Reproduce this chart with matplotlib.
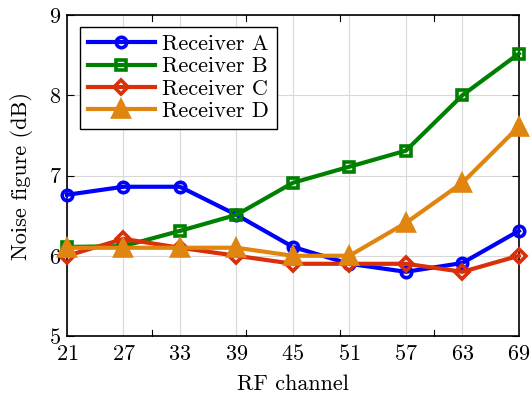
import numpy as np
import matplotlib.pyplot as plt

plt.rcParams['font.family'] = 'cmr10'
plt.rcParams['mathtext.fontset'] = 'cm'
plt.rcParams['axes.formatter.use_mathtext'] = True

channels = [21, 27, 33, 39, 45, 51, 57, 63, 69]
nf_a = [6.76, 6.86, 6.86, 6.51, 6.11, 5.90, 5.80, 5.91, 6.31]
nf_b = [6.11, 6.12, 6.31, 6.51, 6.91, 7.11, 7.31, 8.00, 8.52]
nf_c = [6.00, 6.21, 6.10, 6.00, 5.90, 5.90, 5.90, 5.80, 6.00]
nf_d = [6.10, 6.10, 6.10, 6.10, 6.00, 6.00, 6.41, 6.91, 7.61]

# name, values, colour, marker, marker size, filled
series = [
    ('Receiver A', nf_a, '#0000ff', 'o', 7.5, False),
    ('Receiver B', nf_b, '#008000', 's', 7.5, False),
    ('Receiver C', nf_c, '#d9300a', 'D', 7.0, False),
    ('Receiver D', nf_d, '#e0850f', '^', 11.5, True),
]

fig = plt.figure(figsize=(5.3, 3.96), dpi=100)
ax = fig.add_axes([0.1264, 0.1515, 0.8526, 0.8105])

for name, vals, col, mk, ms, filled in series:
    ax.plot(channels, vals, color=col, lw=3.0, marker=mk, ms=ms,
            mfc=col if filled else 'none', mec=col, mew=2.6, label=name,
            clip_on=False, zorder=3)

ax.set_xlim(21, 69)
ax.set_ylim(5, 9)
ax.set_xticks(channels)
ax.set_yticks([5, 6, 7, 8, 9])
ax.grid(True, color='#d9d9d9', lw=0.8, zorder=0)
ax.tick_params(axis='x', length=0, labelsize=16, pad=6)
ax.tick_params(axis='y', direction='in', right=True, length=5, width=0.8,
               labelsize=16, pad=4)

# short tick marks at the round channel numbers, top and bottom
for x in [30, 40, 50, 60]:
    ax.plot([x, x], [0, 0.018], transform=ax.get_xaxis_transform(), color='k', lw=0.8, clip_on=False)
    ax.plot([x, x], [1, 0.982], transform=ax.get_xaxis_transform(), color='k', lw=0.8, clip_on=False)

for s in ax.spines.values():
    s.set_linewidth(1.2)

ax.set_xlabel('RF channel', fontsize=16, labelpad=7)
ax.set_ylabel('Noise figure (dB)', fontsize=16, labelpad=11)

leg = ax.legend(loc='upper left', bbox_to_anchor=(0.029, 0.963), fontsize=16,
                handlelength=3.0, fancybox=False, edgecolor='k', framealpha=1,
                borderpad=0.35, labelspacing=0.12, handletextpad=0.35,
                borderaxespad=0)
leg.get_frame().set_linewidth(1.0)

fig.savefig('out.png', dpi=100)
